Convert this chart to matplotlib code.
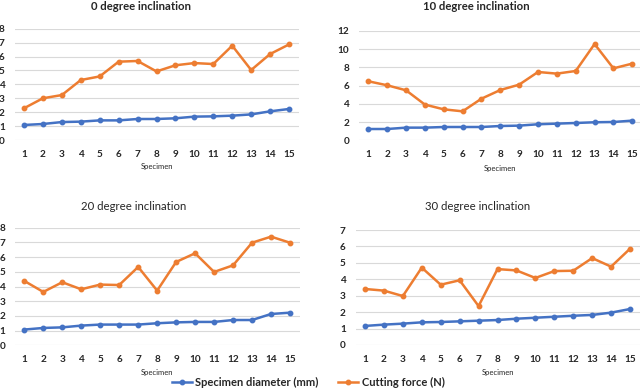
import numpy as np
import matplotlib
matplotlib.use("Agg")
import matplotlib.pyplot as plt

plt.rcParams["font.family"] = ["Lato", "DejaVu Sans"]

specimen = list(range(1, 16))

# 0 degree
dia_0 = [1.08, 1.15, 1.29, 1.32, 1.41, 1.41, 1.51, 1.51, 1.56, 1.68, 1.70, 1.75, 1.84, 2.06, 2.23]
force_0 = [2.28, 3.0, 3.23, 4.31, 4.57, 5.63, 5.68, 4.93, 5.37, 5.53, 5.46, 6.78, 5.03, 6.18, 6.87]

# 10 degree
dia_10 = [1.24, 1.24, 1.39, 1.39, 1.46, 1.46, 1.46, 1.57, 1.61, 1.76, 1.83, 1.90, 1.98, 2.01, 2.16]
force_10 = [6.48, 6.04, 5.49, 3.92, 3.40, 3.18, 4.57, 5.52, 6.11, 7.50, 7.32, 7.61, 10.57, 7.90, 8.42]

# 20 degree
dia_20 = [1.07, 1.18, 1.22, 1.34, 1.41, 1.41, 1.41, 1.50, 1.56, 1.59, 1.59, 1.72, 1.72, 2.13, 2.22]
force_20 = [4.38, 3.63, 4.29, 3.81, 4.13, 4.10, 5.33, 3.72, 5.67, 6.26, 4.99, 5.44, 6.98, 7.39, 6.98]

# 30 degree
dia_30 = [1.16, 1.24, 1.30, 1.38, 1.40, 1.44, 1.48, 1.52, 1.60, 1.66, 1.72, 1.78, 1.83, 1.97, 2.19]
force_30 = [3.41, 3.31, 2.98, 4.71, 3.67, 3.94, 2.37, 4.62, 4.54, 4.08, 4.50, 4.52, 5.29, 4.77, 5.86]

BLUE = "#4472C4"
ORANGE = "#ED7D31"
TXT = "#262626"
W, H = 640, 392

fig = plt.figure(figsize=(W / 100, H / 100), dpi=100)


def px_axes(x0, x1, ytop, ybot):
    return fig.add_axes([x0 / W, 1 - ybot / H, (x1 - x0) / W, (ybot - ytop) / H])


def panel(ax, dia, force, ymax, step, title, tx, ty, title_bold, sx, sy):
    ax.plot(specimen, dia, color=BLUE, lw=1.8, marker="o", ms=3.2,
            label="Specimen diameter (mm)")
    ax.plot(specimen, force, color=ORANGE, lw=1.8, marker="o", ms=3.2,
            label="Cutting force (N)")
    ax.set_xlim(0.5, 15.5)
    ax.set_ylim(0, ymax)
    ax.set_yticks(np.arange(0, ymax + 0.01, step))
    ax.set_xticks(specimen)
    ax.grid(axis="y", color="#D9D9D9", lw=0.8)
    ax.set_axisbelow(True)
    for s in ax.spines.values():
        s.set_visible(False)
    ax.tick_params(length=0, labelsize=7.2)
    ax.tick_params(axis="x", pad=7)
    ax.tick_params(axis="y", pad=7)
    for lab in ax.get_xticklabels() + ax.get_yticklabels():
        lab.set_fontweight("bold")
        lab.set_color(TXT)
    fig.text(tx / W, 1 - ty / H, title, ha="center", va="center", fontsize=8.2,
             fontweight="bold" if title_bold else "normal", color=TXT)
    fig.text(sx / W, 1 - sy / H, "Specimen", ha="center", va="center",
             fontsize=5.5, color=TXT)


ax1 = px_axes(14.5, 298.5, 28.7, 140)
panel(ax1, dia_0, force_0, 8, 1, "0 degree inclination", 141, 6, True, 157, 167)

ax2 = px_axes(358.9, 641.7, 31, 140.3)
panel(ax2, dia_10, force_10, 12, 2, "10 degree inclination", 476, 6, True, 500, 168)

ax3 = px_axes(14.8, 299.5, 227.7, 345.3)
panel(ax3, dia_20, force_20, 8, 1, "20 degree inclination", 134, 207, False, 157, 373)

ax4 = px_axes(355.5, 639.5, 230, 345)
panel(ax4, dia_30, force_30, 7, 1, "30 degree inclination", 478, 207, False, 498, 373)

handles, labels = ax1.get_legend_handles_labels()
leg = fig.legend(handles, labels, loc="center", bbox_to_anchor=(308 / W, 1 - 382 / H),
                 ncol=2, frameon=False, fontsize=8, handlelength=1.8,
                 handletextpad=0.3, columnspacing=1.8)
for t in leg.get_texts():
    t.set_fontweight("bold")
    t.set_color(TXT)

fig.savefig("out.png", dpi=100)
